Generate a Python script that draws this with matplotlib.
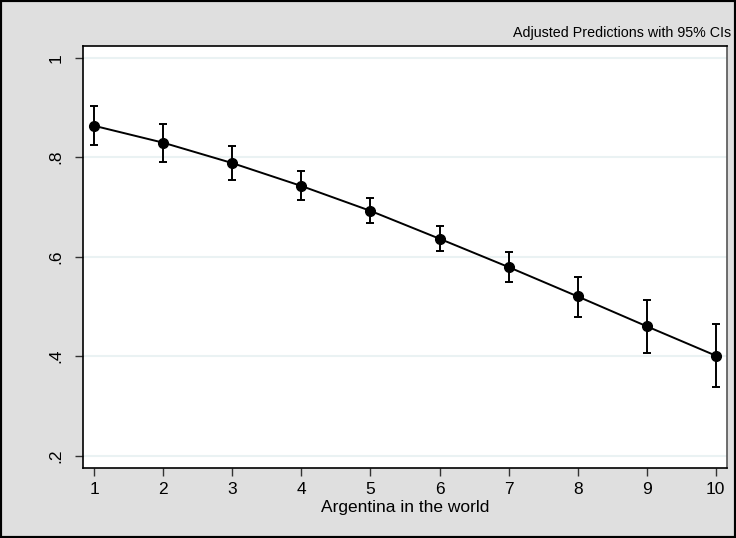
import matplotlib
matplotlib.use("Agg")
import matplotlib.pyplot as plt
from matplotlib.patches import Rectangle

x_vals = [1, 2, 3, 4, 5, 6, 7, 8, 9, 10]
pred = [0.863, 0.829, 0.788, 0.742, 0.692, 0.636, 0.579, 0.520, 0.460, 0.401]
ci_low = [0.825, 0.790, 0.754, 0.713, 0.667, 0.611, 0.548, 0.478, 0.407, 0.337]
ci_high = [0.903, 0.867, 0.823, 0.772, 0.718, 0.661, 0.610, 0.560, 0.512, 0.464]
y_ticks = [0.2, 0.4, 0.6, 0.8, 1.0]
y_labels = [".2", ".4", ".6", ".8", "1"]
title = "Adjusted Predictions with 95% CIs"
xlabel = "Argentina in the world"

plt.rcParams['font.family'] = ['Liberation Sans', 'DejaVu Sans']

W, H = 736, 538
fig = plt.figure(figsize=(W / 100, H / 100), dpi=100)
bg = '#dfdfdf'
fig.patch.set_facecolor(bg)

left, right, top, bottom = 83, 727, 46, 468
ax = fig.add_axes([left / W, 1 - bottom / H, (right - left) / W, (bottom - top) / H])
ax.set_facecolor('white')

ax.set_xlim(0.836, 10.164)
ax.set_ylim(0.175, 1.0235)

for yt in y_ticks:
    ax.axhline(yt, color='#eaf2f3', lw=1.5, zorder=0)

yerr = [[p - l for p, l in zip(pred, ci_low)], [h - p for p, h in zip(pred, ci_high)]]
ax.errorbar(x_vals, pred, yerr=yerr, fmt='none', ecolor='black', elinewidth=1.4,
            capsize=3, capthick=1.4, zorder=3)
ax.plot(x_vals, pred, color='black', lw=1.4, marker='o', markersize=7,
        markerfacecolor='black', markeredgecolor='black', zorder=4)

ax.set_xticks(x_vals)
ax.set_xticklabels([str(v) for v in x_vals], fontsize=12.5)
ax.set_yticks(y_ticks)
ax.set_yticklabels(y_labels, fontsize=12.5, rotation=90, va='center')
ax.tick_params(axis='both', direction='out', length=6, width=1, color='#333333', pad=4)
ax.tick_params(axis='y', pad=8)
for s in ax.spines.values():
    s.set_color('black')
    s.set_linewidth(1.2)
ax.spines['right'].set_color('#555555')

ax.set_xlabel(xlabel, fontsize=12.5, labelpad=2)
fig.text(731 / W, 1 - 33 / H, title, fontsize=10.3, ha='right', va='center')

fig.patches.append(Rectangle((0, 0), 1, 1, transform=fig.transFigure, fill=False,
                             edgecolor='black', linewidth=3, zorder=10))

fig.savefig('out.png', dpi=100, facecolor=bg)
